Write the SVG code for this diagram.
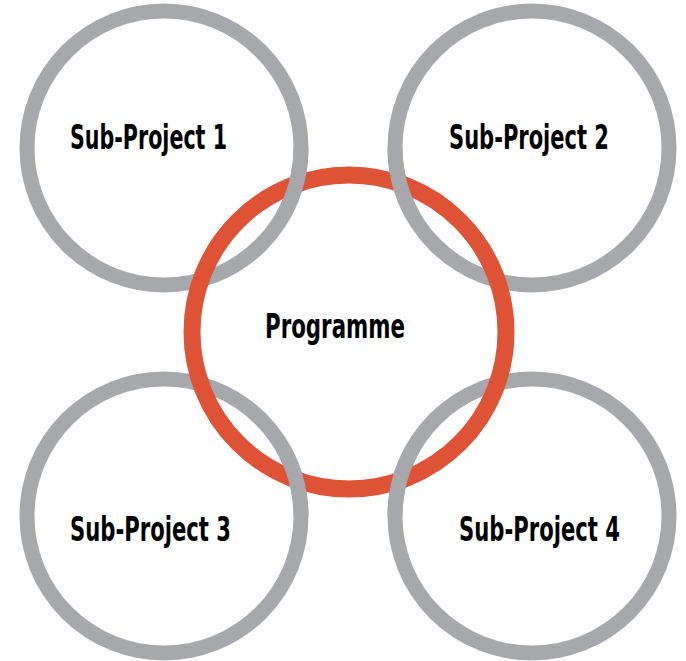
<svg xmlns="http://www.w3.org/2000/svg" width="686" height="661" viewBox="0 0 686 661">
<style>
.ring{fill:none;stroke:#A7A8AB;stroke-width:15}
.red{fill:none;stroke:#DE5336;stroke-width:17}
.lbl{font-family:"Liberation Sans Narrow","DejaVu Sans Condensed","Liberation Sans",sans-serif;font-weight:bold;font-size:33px;fill:#000;text-anchor:middle}
</style>
<rect width="686" height="661" fill="#fff"/>
<g id="sub1"><circle class="ring" cx="164" cy="148" r="137"/></g>
<g id="sub2"><circle class="ring" cx="532" cy="148" r="137"/></g>
<g id="sub3"><circle class="ring" cx="164" cy="516" r="137"/></g>
<g id="sub4"><circle class="ring" cx="532" cy="516" r="137"/></g>
<g id="programme"><circle class="red" cx="349" cy="332" r="157"/></g>
<g id="connectors">
<path class="ring" d="M301,148 A137,137 0 0 1 282.6,216.5"/>
<path class="ring" d="M413.4,216.5 A137,137 0 0 1 395,148"/>
<path class="ring" d="M282.6,447.5 A137,137 0 0 1 301,516"/>
<path class="ring" d="M395,516 A137,137 0 0 1 413.4,447.5"/>
</g>
<g id="labels">
<text class="lbl" x="148.5" y="149" textLength="157" lengthAdjust="spacingAndGlyphs">Sub-Project 1</text>
<text class="lbl" x="529" y="149" textLength="160" lengthAdjust="spacingAndGlyphs">Sub-Project 2</text>
<text class="lbl" x="335" y="338" textLength="140" lengthAdjust="spacingAndGlyphs">Programme</text>
<text class="lbl" x="150.5" y="541" textLength="161" lengthAdjust="spacingAndGlyphs">Sub-Project 3</text>
<text class="lbl" x="539.5" y="541" textLength="161" lengthAdjust="spacingAndGlyphs">Sub-Project 4</text>
</g>
</svg>
